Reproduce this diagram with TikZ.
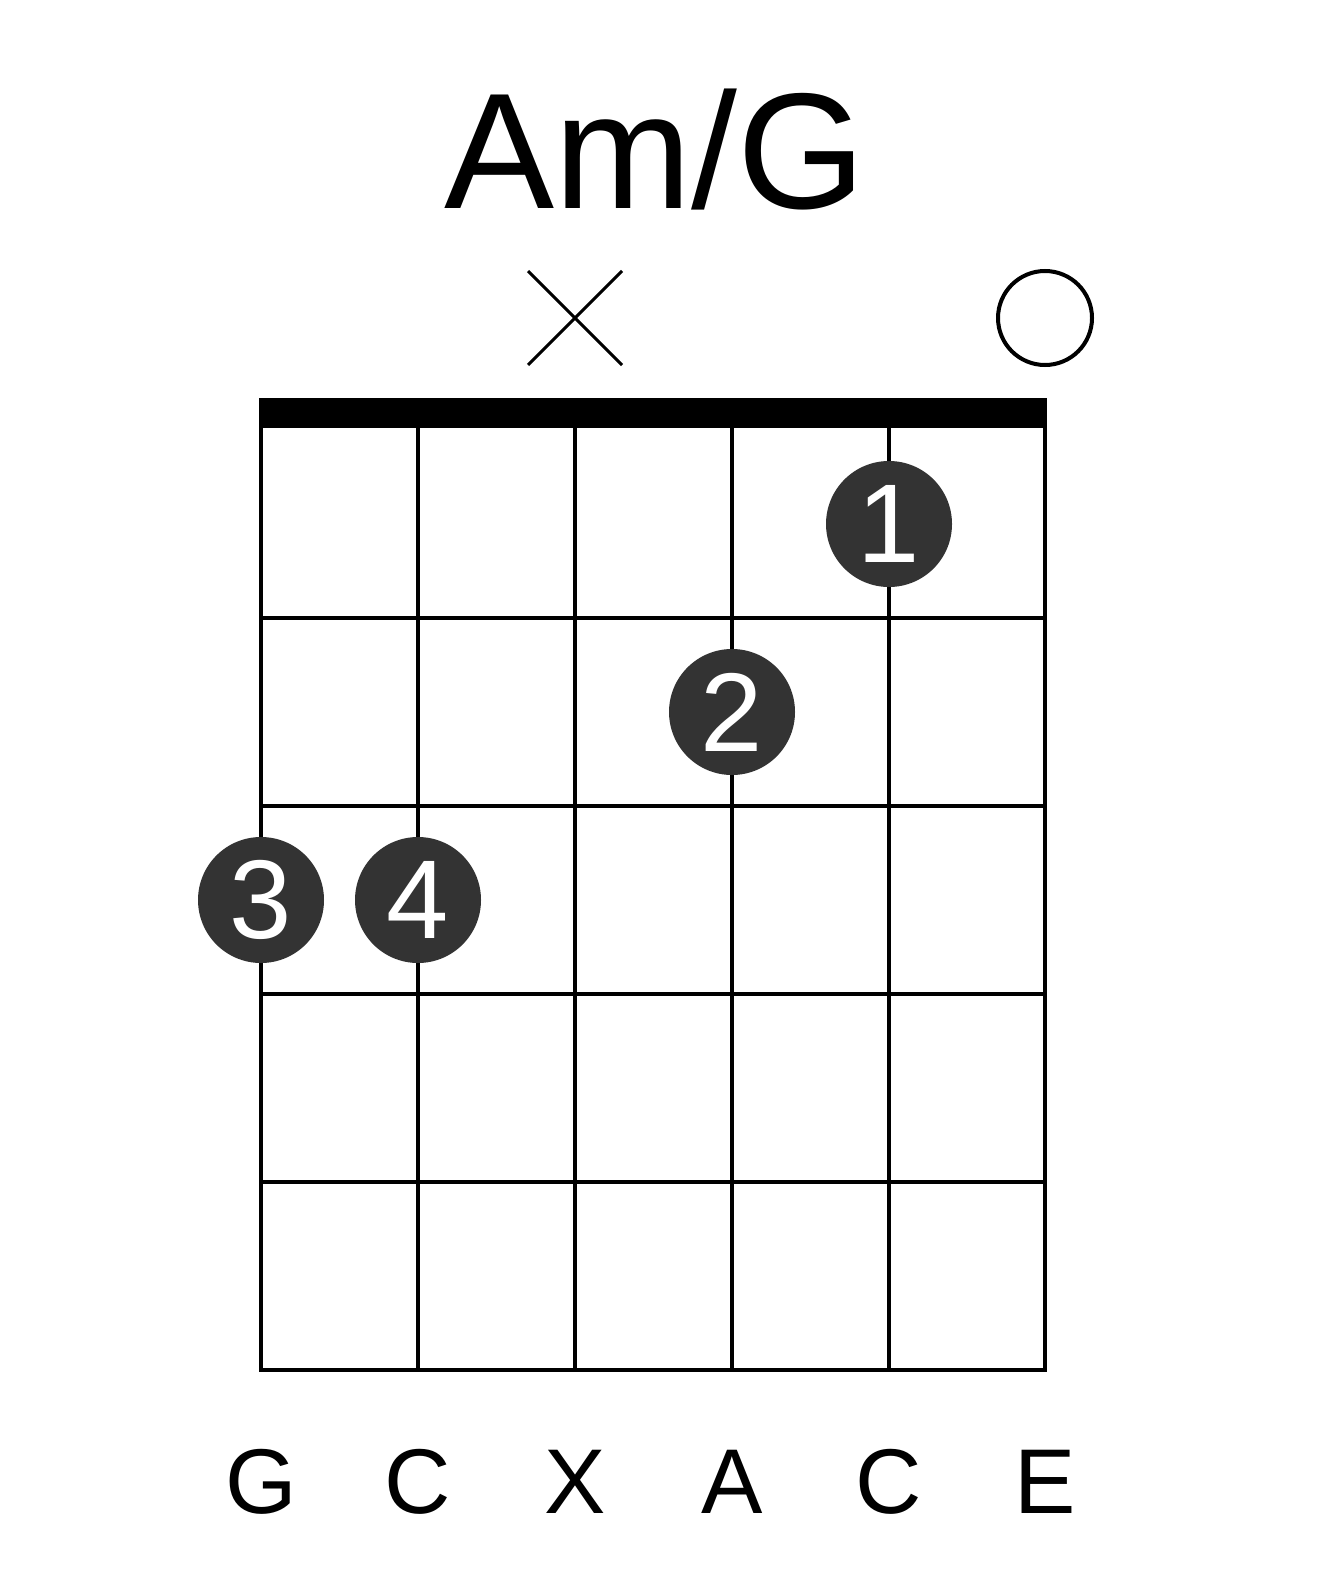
\documentclass[tikz,border=0pt]{standalone}
\usepackage{fontspec}
\setmainfont{Liberation Sans}
\definecolor{dot}{HTML}{333333}
\begin{document}
\begin{tikzpicture}[x=1pt,y=-1pt,
  gridline/.style={line width=4pt,black},
  fdot/.style={circle,fill=dot,minimum size=126pt,inner sep=0pt,text=white,font=\fontsize{112}{112}\selectfont},
  lbl/.style={font=\fontsize{92}{92}\selectfont,anchor=base}]
\useasboundingbox (0,0) rectangle (1317,1581);
\node[font=\fontsize{165}{165}\selectfont,anchor=base] (title) at (655,208) {Am/G};
% strings
\foreach \x in {261,418,575,732,889,1045} \draw[gridline] (\x,413) -- (\x,1370);
\foreach \y in {618,806,994,1182} \draw[gridline] (261,\y) -- (1045,\y);
\draw[gridline] (259,1370) -- (1047,1370);
\fill (259,398) rectangle (1047,428);
% markers
\coordinate (xa) at (528,271); \coordinate (xb) at (622,365);
\coordinate (xc) at (622,271); \coordinate (xd) at (528,365);
\draw[line width=3pt] (xa) -- (xb) (xc) -- (xd);
\node[circle,draw,line width=4pt,minimum size=94pt,inner sep=0pt] (open) at (1045,318) {};
% dots
\node[fdot] (d1) at (889,524) {1};
\node[fdot] (d2) at (732,712) {2};
\node[fdot] (d3) at (261,900) {3};
\node[fdot] (d4) at (418,900) {4};
% labels
\node[lbl] (l1) at (261,1513) {G};
\node[lbl] (l2) at (418,1513) {C};
\node[lbl] (l3) at (575,1513) {X};
\node[lbl] (l4) at (732,1513) {A};
\node[lbl] (l5) at (889,1513) {C};
\node[lbl] (l6) at (1045,1513) {E};
\end{tikzpicture}
\end{document}
